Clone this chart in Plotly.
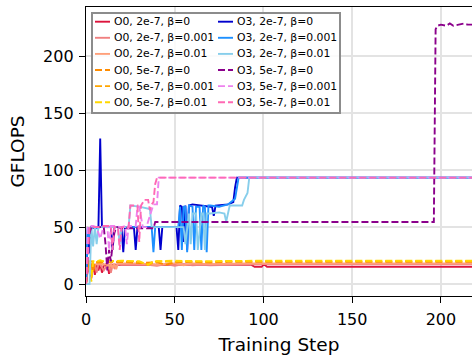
import plotly.graph_objects as go

# ---------------- data ----------------
labels = [
    "O0, 2e-7, β=0", "O0, 2e-7, β=0.001", "O0, 2e-7, β=0.01",
    "O0, 5e-7, β=0", "O0, 5e-7, β=0.001", "O0, 5e-7, β=0.01",
    "O3, 2e-7, β=0", "O3, 2e-7, β=0.001", "O3, 2e-7, β=0.01",
    "O3, 5e-7, β=0", "O3, 5e-7, β=0.001", "O3, 5e-7, β=0.01",
]

o0_2e7_b0_x = [0, 1, 2, 3, 4, 5, 6, 7, 8, 9, 10, 11, 12, 13, 14, 16, 20, 30, 40, 50, 60, 70, 80, 90, 93, 95, 99, 100, 101, 102, 218]
o0_2e7_b0_y = [0, 17, 10, 5, 18, 8, 17, 12, 18, 10, 17, 16, 18, 9, 17, 17, 17.5, 17, 17.5, 17, 17.5, 17, 17, 17.5, 17, 15.2, 15.2, 17, 16.5, 15.2, 15.2]

o0_2e7_b001_x = [0, 1, 2, 3, 4, 5, 6, 7, 8, 10, 12, 13, 14, 15, 16, 18, 20, 25, 30, 35, 40, 45, 50, 55, 60, 65, 70, 80, 90, 100, 110, 218]
o0_2e7_b001_y = [0, 12, 18, 8, 17, 17, 10, 18, 17, 12, 17, 17, 10, 17, 14, 18, 17, 17, 16.5, 17, 16, 17.5, 16, 17.5, 16.5, 17, 16.5, 17, 17.5, 17.5, 17.5, 17.5]

o0_2e7_b01_x = [0, 1, 3, 5, 8, 10, 12, 13, 14, 15, 16, 17, 18, 20, 25, 30, 40, 50, 55, 60, 70, 80, 90, 100, 218]
o0_2e7_b01_y = [0, 18, 18, 17, 18, 17, 18, 13, 18, 14, 18, 13, 18, 18, 17.5, 18, 17, 18, 16.5, 18, 17.5, 18, 18, 18, 18]

o0_5e7_b0_x = [0, 1, 2, 3, 4, 5, 6, 8, 10, 15, 20, 30, 40, 45, 50, 60, 70, 80, 90, 100, 218]
o0_5e7_b0_y = [0, 19, 12, 19, 10, 19, 19, 19, 19, 19, 19.5, 18.5, 19, 17, 19, 19.5, 19, 19.5, 19.5, 19.5, 19.5]

o0_5e7_b001_x = [0, 1, 2, 3, 5, 8, 10, 12, 15, 20, 30, 35, 40, 50, 60, 70, 80, 100, 218]
o0_5e7_b001_y = [0, 18, 19, 20, 19, 20, 19.5, 20, 19.5, 20, 19.5, 17, 20, 19.5, 20, 19.5, 20, 20, 20]

o0_5e7_b01_x = [0, 1, 2, 3, 4, 6, 8, 10, 20, 30, 35, 38, 40, 50, 60, 80, 100, 218]
o0_5e7_b01_y = [0, 20, 20, 2, 20, 20, 21, 20, 20.5, 20, 17, 20, 20, 20.5, 20, 20.5, 20.5, 20.5]

o3_2e7_b0_x = [0, 1, 2, 3, 5, 7, 8, 9, 10, 14, 15, 16, 20, 21, 22, 27, 28, 29, 35, 41, 42, 43, 50, 51, 52, 53, 54, 55, 56, 57, 58, 60, 70, 71, 72, 73, 80, 83, 84, 85, 218]
o3_2e7_b0_y = [0, 49, 27, 50, 49, 50, 128, 50, 50, 50, 30, 50, 50, 28, 50, 50, 30, 50, 50, 50, 30, 50, 50, 50, 30, 69, 68, 37, 69, 30, 69, 70, 68, 68, 60, 69, 70, 72, 85, 93.5, 93.5]

o3_2e7_b001_x = [0, 1, 2, 3, 4, 6, 8, 12, 20, 30, 37, 38, 39, 45, 50, 52, 53, 54, 55, 56, 57, 58, 60, 61, 62, 64, 65, 66, 67, 68, 69, 70, 75, 80, 84, 86, 218]
o3_2e7_b001_y = [0, 50, 35, 50, 50, 49, 50, 50, 50, 50, 50, 28, 50, 50, 50, 50, 68, 30, 68, 68, 28, 69, 68, 30, 68, 68, 30, 69, 68, 28, 69, 69, 68, 70, 75, 93.5, 93.5]

o3_2e7_b01_x = [0, 2, 3, 4, 5, 6, 7, 8, 12, 18, 19, 20, 24, 25, 30, 36, 37, 40, 45, 50, 55, 56, 58, 59, 60, 62, 63, 65, 66, 67, 68, 70, 75, 78, 79, 80, 81, 88, 89, 91, 92, 218]
o3_2e7_b01_y = [0, 0, 50, 33, 50, 35, 50, 50, 50, 50, 35, 50, 50, 69, 68, 66, 50, 50, 50, 50, 50, 35, 62, 35, 62, 62, 30, 62, 62, 30, 62, 62, 63, 62, 55, 62, 69, 69, 74, 80, 93.5, 93.5]

o3_5e7_b0_x = [0, 1, 2, 3, 10, 11, 12, 13, 14, 15, 16, 17, 18, 20, 30, 38, 39, 40, 100, 196, 197, 198, 200, 203, 205, 207, 210, 213, 215, 218]
o3_5e7_b0_y = [0, 20, 45, 50, 50, 35, 12, 30, 20, 35, 45, 50, 50, 49, 49, 49, 54.5, 54.5, 54.5, 54.5, 224, 227, 228, 227, 229, 227, 228, 229, 228, 228]

o3_5e7_b001_x = [0, 1, 2, 4, 6, 8, 10, 12, 13, 14, 16, 20, 22, 23, 24, 26, 28, 29, 30, 32, 34, 36, 38, 40, 41, 218]
o3_5e7_b001_y = [0, 50, 51, 51, 50, 40, 51, 51, 30, 51, 51, 50, 51, 35, 51, 51, 51, 68, 68, 50, 50, 60, 70, 70, 93.5, 93.5]

o3_5e7_b01_x = [0, 1, 2, 3, 8, 10, 14, 15, 16, 18, 19, 20, 24, 25, 26, 27, 29, 30, 31, 33, 35, 36, 37, 38, 39, 40, 218]
o3_5e7_b01_y = [0, 30, 50, 50, 50, 51, 51, 30, 50, 50, 30, 50, 50, 69, 69, 69, 69, 37, 69, 74, 74, 65, 70, 72, 88, 93.5, 93.5]

xs = [o0_2e7_b0_x, o0_2e7_b001_x, o0_2e7_b01_x, o0_5e7_b0_x, o0_5e7_b001_x, o0_5e7_b01_x,
      o3_2e7_b0_x, o3_2e7_b001_x, o3_2e7_b01_x, o3_5e7_b0_x, o3_5e7_b001_x, o3_5e7_b01_x]
ys = [o0_2e7_b0_y, o0_2e7_b001_y, o0_2e7_b01_y, o0_5e7_b0_y, o0_5e7_b001_y, o0_5e7_b01_y,
      o3_2e7_b0_y, o3_2e7_b001_y, o3_2e7_b01_y, o3_5e7_b0_y, o3_5e7_b001_y, o3_5e7_b01_y]

colors = ["#DC143C", "#F08080", "#FFA07A", "#FF8C00", "#FFA500", "#FFD700",
          "#0000CD", "#1E90FF", "#87CEEB", "#8B008B", "#EE82EE", "#FF69B4"]
dashed = [False, False, False, True, True, True, False, False, False, True, True, True]

x_ticks = [0, 50, 100, 150, 200]
y_ticks = [0, 50, 100, 150, 200]

# ---------------- layout geometry (pixels) ----------------
W, H = 472, 356
ML, MR, MT, MB = 86, 0, 7, 60
PW, PH = W - ML - MR, H - MT - MB
DASH = "7px,3px"


def px_x(p):
    return (p - ML) / PW


def px_y(p):
    return (H - MB - p) / PH


# ---------------- figure ----------------
fig = go.Figure()
for lab, x, y, c, d in zip(labels, xs, ys, colors, dashed):
    fig.add_trace(go.Scatter(
        x=x, y=y, mode="lines", name=lab, showlegend=False,
        line=dict(color=c, width=1.9, dash=DASH if d else "solid"),
    ))

# legend drawn as box + samples + text (two columns, 6 rows)
shapes = [dict(type="rect", xref="paper", yref="paper",
               x0=px_x(92), x1=px_x(340), y0=px_y(113), y1=px_y(13),
               line=dict(color="#8c8c8c", width=2), fillcolor="rgba(255,255,255,0.85)",
               layer="above")]
annotations = []
for i, (lab, c, d) in enumerate(zip(labels, colors, dashed)):
    col, row = divmod(i, 6)
    x0 = 95 + col * 123
    yc = 21.7 + row * 16.1
    shapes.append(dict(type="line", xref="paper", yref="paper",
                       x0=px_x(x0), x1=px_x(x0 + 15), y0=px_y(yc), y1=px_y(yc),
                       line=dict(color=c, width=1.9, dash=DASH if d else "solid"),
                       layer="above"))
    annotations.append(dict(xref="paper", yref="paper", x=px_x(x0 + 17), y=px_y(yc),
                            xanchor="left", yanchor="middle", text=lab, showarrow=False,
                            font=dict(family="DejaVu Sans", size=10.8, color="black")))

fig.update_layout(
    width=W, height=H,
    margin=dict(l=ML, r=MR, t=MT, b=MB),
    paper_bgcolor="white", plot_bgcolor="white",
    font=dict(family="DejaVu Sans", size=16, color="black"),
    showlegend=False,
    shapes=shapes, annotations=annotations,
    xaxis=dict(
        range=[0, 217.5], tickvals=x_ticks, ticktext=[str(v) for v in x_ticks],
        showgrid=True, gridcolor="#e3e3e3", gridwidth=1.5,
        showline=True, linecolor="black", linewidth=1.3, mirror=True,
        ticks="outside", ticklen=6, tickwidth=1.3, tickcolor="black",
        zeroline=False, tickfont=dict(size=16), ticklabelstandoff=3,
        title=dict(text="Training Step", font=dict(size=18.5), standoff=9),
    ),
    yaxis=dict(
        range=[-10.5, 243.5], tickvals=y_ticks, ticktext=[str(v) for v in y_ticks],
        showgrid=True, gridcolor="#e3e3e3", gridwidth=1.5,
        showline=True, linecolor="black", linewidth=1.3,
        ticks="outside", ticklen=6, tickwidth=1.3, tickcolor="black",
        zeroline=False, tickfont=dict(size=16), ticklabelstandoff=2,
        title=dict(text="GFLOPS", font=dict(size=18.5), standoff=13),
    ),
)

fig.write_html("out.html")
